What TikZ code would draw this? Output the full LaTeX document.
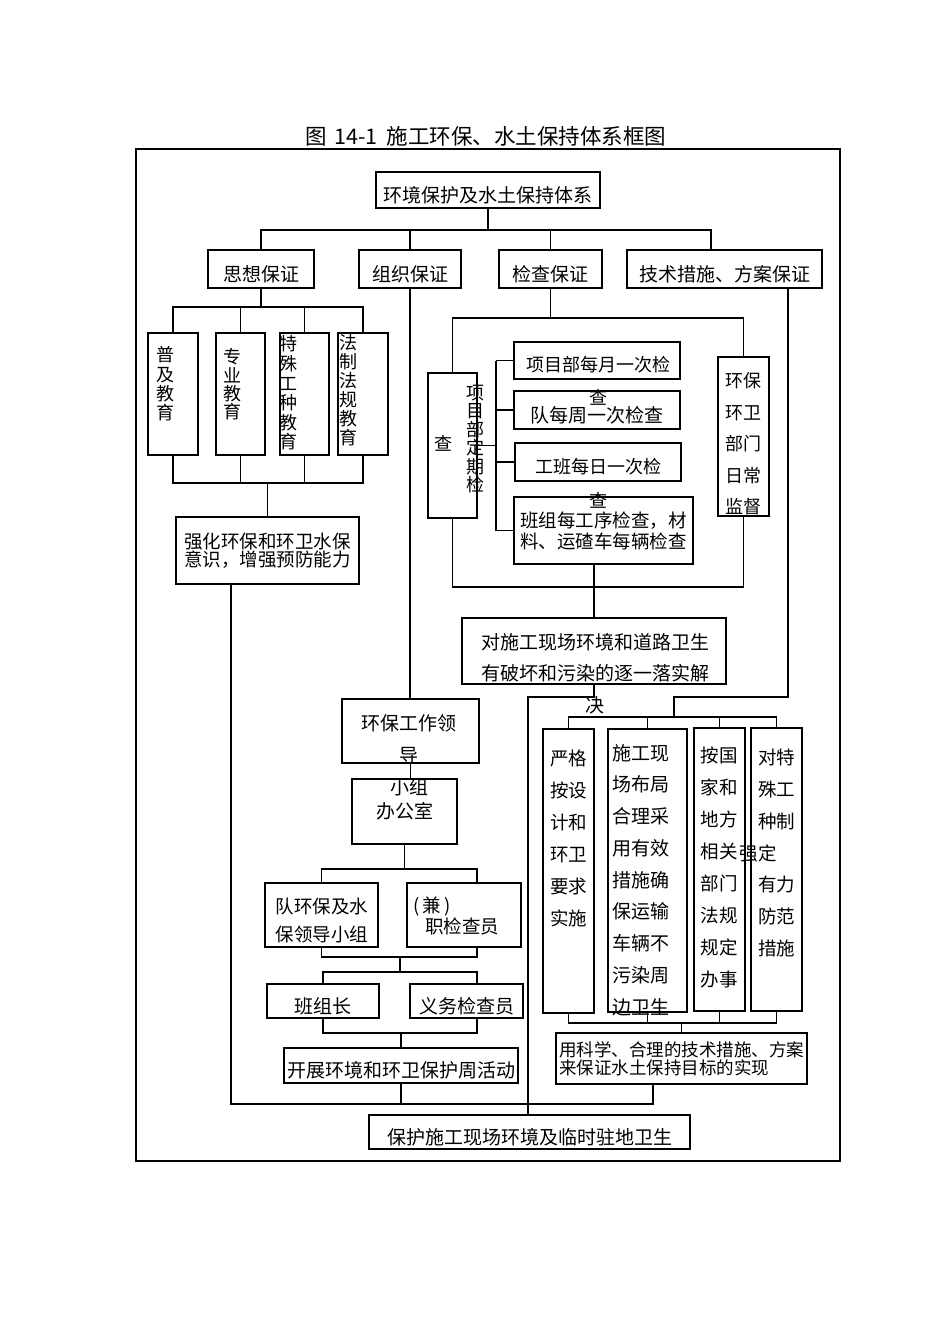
\documentclass[tikz,border=0pt]{standalone}
\usepackage{fontspec}
\setmainfont{Noto Sans CJK SC}
\newcommand\fs[2]{\fontsize{#1}{#2}\selectfont}

\begin{document}
\begin{tikzpicture}[x=1pt,y=-1pt,
  box/.style={draw,line width=1.3pt,inner sep=0pt,font=\fs{18}{22}},
  wh/.style 2 args={minimum width=#1,minimum height=#2},
  txt/.style={inner sep=0pt,align=center},
  tx/.style={label={[txt,font=\fs{19}{22},yshift=-5pt]center:#1}},
  link/.style={line width=1.2pt}]
\useasboundingbox (0,0) rectangle (950,1344);

\node[txt,font=\fs{21.5}{24}] (title) at (486,136)
  {图\hspace{7pt}14-1\hspace{9pt}施工环保、水土保持体系框图};
\draw[line width=2.8pt] (136,149) rectangle (840,1161);

\node[box,wh={224pt}{36pt},tx=环境保护及水土保持体系] (sys) at (488,190) {};
\node[box,wh={106pt}{38pt},tx=思想保证] (sixiang) at (261,269) {};
\node[box,wh={102pt}{38pt},tx=组织保证] (zuzhi) at (410,269) {};
\node[box,wh={103pt}{38pt},tx=检查保证] (jiancha) at (550.5,269) {};
\node[box,wh={195pt}{38pt},tx=技术措施、方案保证] (jishu) at (724.5,269) {};

% education
\node[box,wh={50pt}{122pt}] (puji) at (173,394) {};
\node[box,wh={49pt}{122pt}] (zhuanye) at (240.5,394) {};
\node[box,wh={49pt}{122pt}] (teshu) at (304.5,394) {};
\node[box,wh={50pt}{122pt}] (fazhi) at (363,394) {};
\node[txt,font=\fs{18}{19.3}] (t-puji) at (165,384) {普\\及\\教\\育};
\node[txt,font=\fs{18}{18.3}] (t-zhuanye) at (232,384.5) {专\\业\\教\\育};
\node[txt,font=\fs{18}{19.6}] (t-teshu) at (288,393) {特\\殊\\工\\种\\教\\育};
\node[txt,font=\fs{18}{19}] (t-fazhi) at (348,390.5) {法\\制\\法\\规\\教\\育};
\node[box,wh={183pt}{67pt},align=center,font=\fs{18.5}{18.5}] (qianghua) at (267.5,550.5)
  {强化环保和环卫水保\\意识，增强预防能力};

% inspection
\node[box,wh={49pt}{145pt}] (dingqi) at (452.5,445.5) {};
\node[txt,font=\fs{18}{22}] (t-cha) at (443,443) {查};
\node[txt,font=\fs{18}{18.4}] (t-dingqi) at (475,439) {项\\目\\部\\定\\期\\检};
\node[box,wh={166pt}{37pt}] (month) at (597,360.5) {};
\node[txt,font=\fs{18}{33}] (t-month) at (598,380.5) {项目部每月一次检\\查};
\node[box,wh={166pt}{38pt},tx=队每周一次检查] (week) at (597,410) {};
\node[box,wh={166pt}{38pt}] (day) at (598,462) {};
\node[txt,font=\fs{18}{34}] (t-day) at (598.5,483) {工班每日一次检\\查};
\node[box,wh={179pt}{67pt},align=left,font=\fs{18.5}{21}] (banzu) at (603.5,530.5)
  {班组每工序检查，材\\料、运碴车每辆检查};
\node[box,wh={51pt}{159pt}] (jiandu) at (743.5,436.5) {};
\node[txt,font=\fs{18}{31.5}] (t-jiandu) at (743.5,444) {环保\\环卫\\部门\\日常\\监督};
\node[box,wh={264pt}{66pt}] (duishi) at (594,651) {};
\node[txt,font=\fs{19}{31.5}] (t-duishi) at (595,673.5)
  {对施工现场环境和道路卫生\\有破坏和污染的逐一落实解\\决};

% organisation
\node[box,wh={137pt}{64pt}] (lingdao) at (410.5,731) {};
\node[txt,font=\fs{19}{32}] (t-lingdao) at (409,755) {环保工作领\\导\\小组};
\node[box,wh={105pt}{65pt},font=\fs{19}{22}] (office) at (404.5,811.5) {办公室};
\node[box,wh={113pt}{64pt}] (duihb) at (321.5,915) {};
\node[txt,font=\fs{18.5}{28}] (t-duihb) at (322,921) {队环保及水\\保领导小组};
\node[box,wh={114pt}{64pt}] (jianzhi) at (464,915) {};
\node[txt,align=left,font=\fs{18.5}{18},anchor=west] (t-jianzhi) at (413,916)
  {(\,兼\,)\\\hspace*{12pt}职检查员};
\node[box,wh={112pt}{34pt},tx=班组长] (bzz) at (323,1001) {};
\node[box,wh={113pt}{34pt},tx=义务检查员] (yiwu) at (466.5,1001) {};
\node[box,wh={234pt}{35pt},tx=开展环境和环卫保护周活动] (kaizhan) at (401,1065.5) {};

% technical measures
\node[box,wh={51pt}{284pt}] (yange) at (568.5,871) {};
\node[txt,font=\fs{18.5}{32}] (t-yange) at (568.5,838) {严格\\按设\\计和\\环卫\\要求\\实施};
\node[box,wh={79pt}{283pt}] (shigong) at (647.5,870.5) {};
\node[txt,font=\fs{19}{31.75}] (t-shigong) at (641,880)
  {施工现\\场布局\\合理采\\用有效\\措施确\\保运输\\车辆不\\污染周\\边卫生};
\node[box,wh={51pt}{283pt}] (anguo) at (719.5,869.5) {};
\node[txt,font=\fs{18.5}{32}] (t-anguo) at (719,867.5)
  {按国\\家和\\地方\\相关\\部门\\法规\\规定\\办事};
\node[box,wh={51pt}{283pt}] (duite) at (776.5,869.5) {};
\node[txt,align=left,font=\fs{18.5}{31.7},anchor=west] (t-duite) at (758,853)
  {对特\\殊工\\种制\\\llap{强}定\\有力\\防范\\措施};
\node[box,wh={251pt}{51pt},align=left,font=\fs{17.5}{18}] (kexue) at (681.5,1058.5)
  {用科学、合理的技术措施、方案\\来保证水土保持目标的实现};

\node[box,wh={321pt}{34pt},tx=保护施工现场环境及临时驻地卫生] (baohu) at (529.5,1132) {};

% connectors, top level
\coordinate (r1) at (0,230);
\coordinate (jt) at (711,250);
\draw[link] (sys.south) -- (sys.south |- r1);
\draw[link] (sixiang.north) |- (jt |- r1) -- (jt);
\draw[link] (zuzhi.north) -- (zuzhi.north |- r1);
\draw[link] (jiancha.north) -- (jiancha.north |- r1);

\coordinate (r2) at (0,307);
\coordinate (r3) at (0,483);
\draw[link] (sixiang.south) -- (sixiang.south |- r2);
\draw[link] (puji.north) |- (fazhi.north |- r2) -- (fazhi.north);
\draw[link] (puji.south) |- (fazhi.south |- r3) -- (fazhi.south);
\foreach \b in {zhuanye,teshu} {
  \draw[link] (\b.north) -- (\b.north |- r2);
  \draw[link] (\b.south) -- (\b.south |- r3);
}
\draw[link] (qianghua.north) -- (qianghua.north |- r3);

\coordinate (r4) at (0,318);
\coordinate (r5) at (0,587);
\coordinate (sp) at (496,0);
\draw[link] (jiancha.south) -- (jiancha.south |- r4);
\draw[link] (dingqi.north) |- (jiandu.north |- r4) -- (jiandu.north);
\draw[link] (dingqi.south) |- (jiandu.south |- r5) -- (jiandu.south);
\draw[link] (dingqi.east) -- (dingqi.east -| sp);
\draw[link] (month.west -| sp) -- (banzu.west -| sp);
\foreach \b in {month,week,day,banzu}
  \draw[link] (\b.west) -- (\b.west -| sp);
\draw[link] (duishi.north |- banzu.south) -- (duishi.north);

\coordinate (r6) at (0,697);
\coordinate (r7) at (0,717);
\coordinate (r8) at (0,1023);
\coordinate (dl) at (528,0);
\coordinate (tj) at (674,0);
\coordinate (js) at ([xshift=63.5pt]jishu.south);
\draw[link] (duishi.south) |- (dl |- r6) -- (dl |- baohu.north);
\draw[link] (js) |- (tj |- r6) -- (tj |- r7);
\draw[link] (yange.north) |- (duite.north |- r7) -- (duite.north);
\draw[link] (yange.south) |- (duite.south |- r8) -- (duite.south);
\foreach \b in {shigong,anguo} {
  \draw[link] (\b.north) -- (\b.north |- r7);
  \draw[link] (\b.south) -- (\b.south |- r8);
}
\draw[link] (kexue.north) -- (kexue.north |- r8);

% organisation chain
\coordinate (r9) at (0,869);
\coordinate (r10) at (0,957);
\coordinate (r11) at (0,972);
\coordinate (r12) at (0,1033);
\coordinate (jz) at (477,0);
\coordinate (mid) at (400,0);
\draw[link] (zuzhi.south) -- (zuzhi.south |- lingdao.north);
\draw[link] (lingdao.south) -- (lingdao.south |- office.north);
\draw[link] (office.south) -- (office.south |- r9);
\draw[link] (duihb.north) |- (jz |- r9) -- (jz |- jianzhi.north);
\draw[link] (duihb.south) |- (jz |- r10) -- (jz |- jianzhi.south);
\draw[link] (mid |- r10) -- (mid |- r11);
\draw[link] (bzz.north) |- (jz |- r11) -- (jz |- yiwu.north);
\draw[link] (bzz.south) |- (jz |- r12) -- (jz |- yiwu.south);
\draw[link] (kaizhan.north) -- (kaizhan.north |- r12);

% bottom bar
\coordinate (r13) at (0,1104);
\coordinate (qs) at ([xshift=-36.5pt]qianghua.south);
\coordinate (ks) at ([xshift=-28.5pt]kexue.south);
\draw[link] (qs) |- (ks |- r13) -- (ks);
\draw[link] (kaizhan.south) -- (kaizhan.south |- r13);
\end{tikzpicture}
\end{document}
